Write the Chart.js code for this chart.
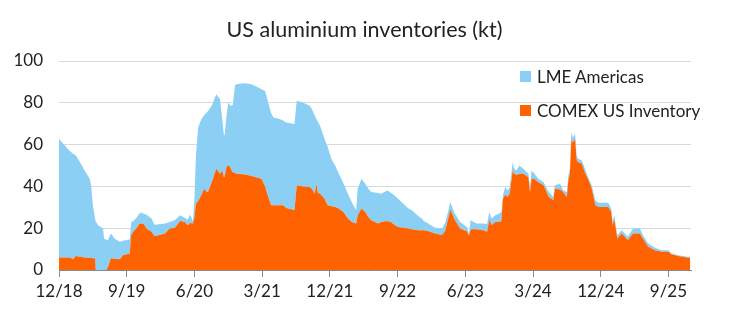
<!DOCTYPE html>
<html>
<head>
<meta charset="utf-8">
<script src="https://cdn.jsdelivr.net/npm/chart.js@4/dist/chart.umd.min.js"></script>
<style>
  html, body { margin:0; padding:0; background:#fff; }
  #wrap { position:relative; width:729px; height:331px; font-family:Lato, 'Open Sans', sans-serif; color:#222; }
  #title { position:absolute; left:0; top:16px; width:729px; text-align:center; font-size:21.5px; line-height:26px; }
  #legend { position:absolute; left:520px; top:66px; font-size:17px; }
  .lg-item { display:flex; align-items:center; height:20px; margin-bottom:14px; }
  .lg-box { width:11px; height:11px; margin-right:6px; }
</style>
</head>
<body>
<div id="wrap">
  <canvas id="invChart" width="729" height="331"></canvas>
  <div id="title">US aluminium inventories (kt)</div>
  <div id="legend"></div>
</div>
<script>
// months since Dec 2018
const months = [0,0.8,1.4,1.9,2.2,2.8,3.4,4.1,4.3,4.5,4.8,4.85,5.2,5.85,6.0,6.3,6.5,6.9,7.4,8.1,8.5,9.4,9.6,9.9,10.3,10.7,10.9,11.3,11.6,12.3,12.7,14.1,14.7,15.4,16.1,16.7,17.1,17.4,17.8,18.0,18.2,18.5,18.9,19.3,19.6,19.8,20.3,20.9,21.4,21.7,21.9,22.0,22.3,22.5,22.7,22.9,23.1,23.4,23.6,24.5,24.9,25.6,26.2,26.5,26.9,27.4,27.6,27.8,28.2,28.5,29.3,29.8,30.2,31.3,31.6,32.4,33.3,33.6,34.0,34.2,34.4,34.7,35.3,35.7,36.2,36.7,37.1,37.8,38.4,38.9,39.5,39.7,40.2,40.7,41.1,41.5,42.4,42.8,43.3,43.7,44.1,44.6,45.1,45.5,46.4,46.9,47.7,48.2,48.5,49.1,49.3,50.0,50.9,51.3,51.7,52.0,52.6,53.3,54.2,54.5,54.7,55.5,56.4,56.9,57.2,57.5,58.0,58.5,58.8,59.0,59.3,59.6,59.9,60.3,60.5,60.8,61.2,61.7,62.4,62.6,62.8,63.2,63.7,64.4,65.1,65.7,65.9,66.6,67.0,67.5,67.7,67.9,68.1,68.3,68.6,68.8,69.0,69.5,69.9,70.4,70.8,71.3,71.7,73.0,73.4,73.6,73.8,74.2,74.8,75.6,76.3,77.2,77.6,78.3,79.2,80.1,81.0,81.4,82.3,83.6,83.9];

const comex = [6.0,6.0,6.0,5.2,6.7,6.3,6.0,5.8,5.7,5.6,5.6,0,0,0,0,0,1.3,5.6,5.4,5.2,7.1,7.9,16.7,18.6,20.0,22.2,22.2,21.9,19.8,18.3,16.2,17.5,19.8,20.2,23.5,23.0,21.4,22.5,22.2,25.0,31.7,33.0,35.7,38.9,37.5,37.3,42.0,48.4,46.0,47.6,44.4,44.5,50.0,49.8,49.7,48.0,46.8,46.5,46.0,45.8,45.6,45.0,44.4,44.0,43.7,40.0,37.3,35.0,31.0,31.0,31.0,31.0,29.7,28.6,40.5,40.0,39.7,38.9,36.5,41.3,37.0,36.5,34.1,31.0,30.5,30.2,29.5,27.8,24.6,23.0,22.2,26.2,29.4,27.8,25.4,23.8,22.2,22.8,23.3,23.3,23.0,21.5,20.6,20.3,19.8,19.5,19.0,19.0,19.0,18.5,18.3,17.5,16.7,18.5,24.0,29.0,24.0,19.8,18.5,16.5,19.5,19.5,19.0,18.3,24.0,21.5,23.0,23.0,23.5,34.0,36.0,35.0,36.5,47.6,46.0,45.5,46.0,46.0,44.4,37.0,43.7,43.5,42.0,40.5,34.9,33.5,38.9,38.5,37.3,34.9,42.9,46.0,62.7,61.0,62.7,52.5,51.6,50.8,46.5,42.9,38.9,31.0,30.2,30.2,27.8,21.4,24.6,15.1,17.5,14.3,17.5,17.5,15.1,11.1,9.5,8.7,8.7,7.5,6.7,5.9,5.9];

const lme = [56.7,53.5,51.0,50.3,48.3,45.3,41.6,37.8,34.0,25.4,19.0,23.5,21.4,19.8,15.0,14.5,13.0,11.9,9.6,8.3,6.9,6.7,6.3,4.9,5.0,4.8,5.3,4.9,6.7,6.3,5.5,4.7,3.2,3.6,2.7,2.0,2.6,4.0,1.3,9.0,23.1,35.3,36.3,35.1,37.9,38.7,36.6,35.7,35.7,24.4,20.6,19.8,25.0,30.4,29.3,30.6,32.2,42.0,42.9,43.6,43.6,43.9,43.4,43.3,42.8,45.7,45.7,45.2,44.0,42.0,41.2,40.5,40.9,41.2,40.5,40.2,38.9,38.1,37.3,30.9,34.0,32.5,28.6,28.0,22.7,19.8,17.3,13.7,11.9,9.5,6.4,12.7,14.3,13.5,13.6,13.5,14.6,13.7,14.2,14.7,14.0,14.2,13.4,12.2,9.7,9.1,7.0,5.6,4.5,3.7,3.4,2.7,3.1,3.7,3.8,3.5,3.0,3.2,2.1,1.0,4.3,2.7,3.2,3.7,3.8,3.1,3.2,4.0,4.3,1.7,3.7,3.0,3.0,4.0,2.4,2.1,4.0,2.4,1.6,1.9,3.9,2.5,1.7,1.5,2.4,1.4,1.6,2.8,0.8,2.4,2.3,2.4,3.2,2.5,2.3,2.3,1.6,1.6,1.9,0.8,1.6,2.3,2.0,2.0,1.5,1.6,1.6,1.6,1.5,1.6,2.3,2.3,1.6,1.6,1.1,0.8,0.8,0.4,0.4,0.4,0.4];

const tickLabels = ['12/18','9/19','6/20','3/21','12/21','9/22','6/23','3/24','12/24','9/25'];
const tickStep = 9;

const FONT = "Lato, 'Open Sans', sans-serif";
const ORANGE = '#FF6200';
const BLUE = '#8BD0F4';

const toPts = arr => arr.map((v, i) => ({ x: months[i], y: v }));

const chart = new Chart(document.getElementById('invChart'), {
  type: 'line',
  data: {
    datasets: [
      { label:'COMEX US Inventory', data:toPts(comex), backgroundColor:ORANGE, borderWidth:0, fill:'origin', pointRadius:0, tension:0 },
      { label:'LME Americas', data:toPts(lme), backgroundColor:BLUE, borderWidth:0, fill:'-1', pointRadius:0, tension:0 },
    ]
  },
  options: {
    responsive:false, animation:false, devicePixelRatio:1,
    layout:{ padding:{ left:0, right:38, top:61, bottom:0 } },
    plugins:{ legend:{ display:false }, tooltip:{ enabled:false } },
    scales:{
      x:{
        type:'linear', min:0, max:84,
        afterBuildTicks: s => { s.ticks = tickLabels.map((_, i) => ({ value:i*tickStep })); },
        afterFit: s => { s.height = 61; },
        ticks:{ color:'#222', font:{ family:FONT, size:17 }, padding:4, maxRotation:0, autoSkip:false,
          callback: v => tickLabels[Math.round(v / tickStep)] },
        grid:{ drawOnChartArea:false, drawTicks:true, tickLength:7, color:'#8a8a8a' },
        border:{ color:'#8a8a8a' }
      },
      y:{
        stacked:true, min:0, max:100,
        afterFit: s => { s.width = 59; },
        ticks:{ stepSize:20, color:'#222', font:{ family:FONT, size:17 }, padding:16 },
        grid:{ color:'#d9d9d9', drawTicks:false },
        border:{ display:false }
      }
    }
  }
});

// legend, LME listed first
const legend = document.getElementById('legend');
chart.data.datasets.slice().reverse().forEach(ds => {
  legend.innerHTML += `<div class="lg-item"><div class="lg-box" style="background:${ds.backgroundColor}"></div>${ds.label}</div>`;
});
</script>
</body>
</html>
